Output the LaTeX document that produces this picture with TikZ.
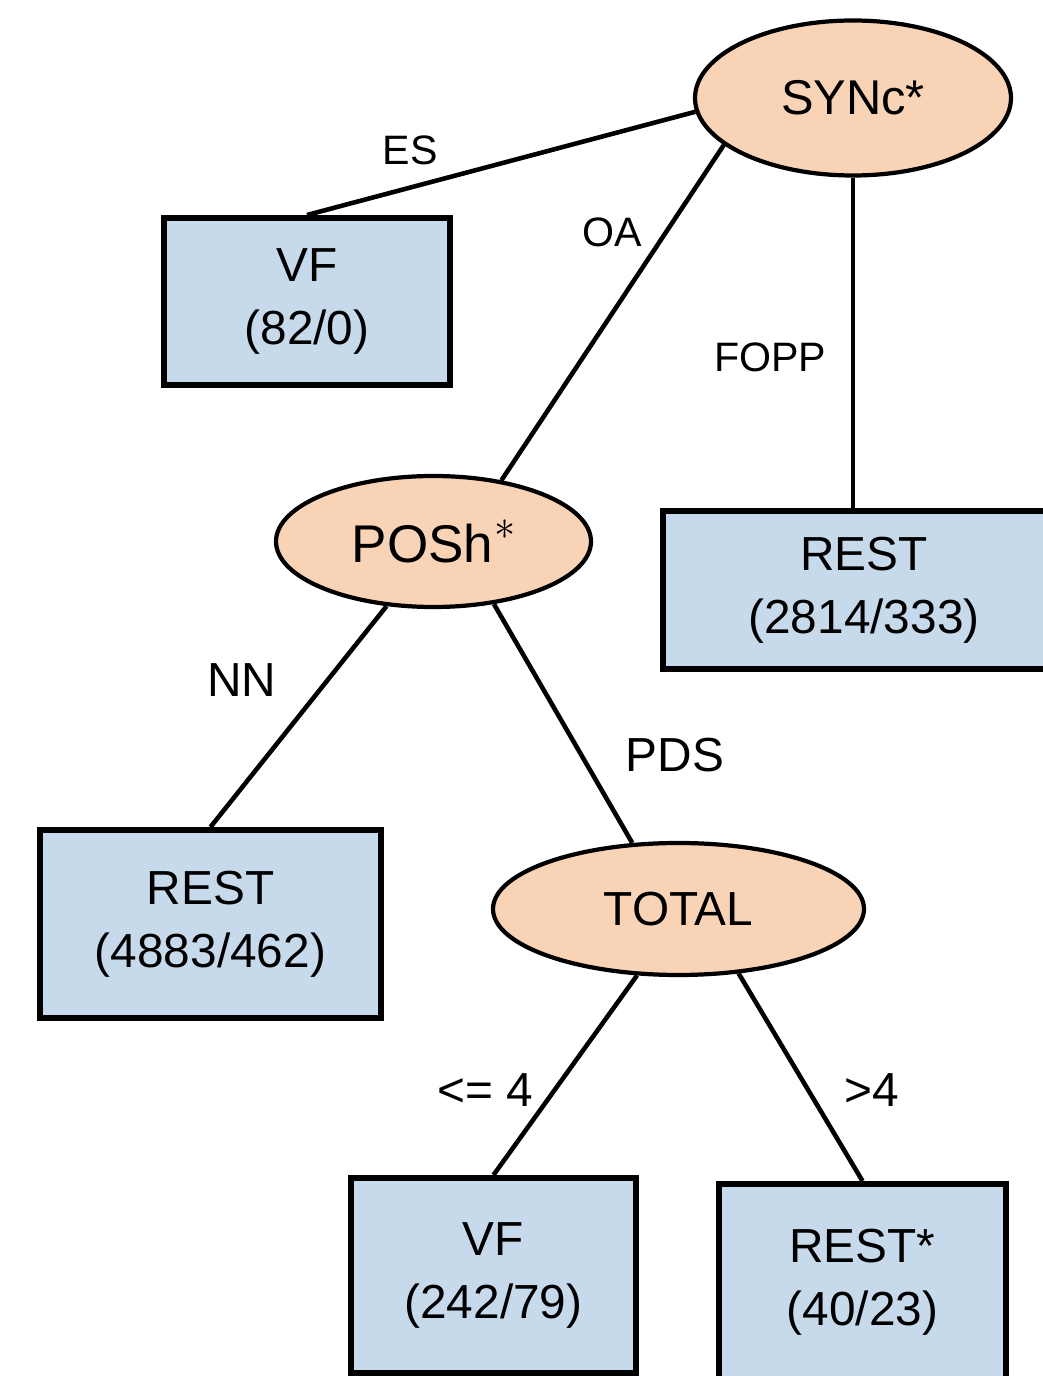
\documentclass[tikz,border=0pt]{standalone}
\usepackage{fontspec}
\setmainfont{Liberation Sans}
\usetikzlibrary{shapes.geometric}

\definecolor{peach}{HTML}{F9D3B6}
\definecolor{leafblue}{HTML}{C7DAEB}

\begin{document}
\begin{tikzpicture}[
  font=\fontsize{13.6}{18}\selectfont,
  split/.style={ellipse, draw=black, line width=1.2pt, fill=peach, inner sep=0pt},
  leaf/.style={rectangle, draw=black, line width=1.7pt, fill=leafblue,
               align=center, inner sep=0pt},
  lbl/.style={inner sep=0pt},
  small/.style={lbl, font=\fontsize{11.7}{14}\selectfont},
  edge/.style={line width=1.3pt, draw=black},
]
\useasboundingbox (0,0) rectangle (10.43,13.76);
\clip (0,0) rectangle (10.43,13.76);

% Split nodes
\node[split, minimum width=31.6mm, minimum height=15.5mm,
      font=\fontsize{13.9}{17}\selectfont] (sync) at (8.53,12.78) {SYNc*};
\node[split, minimum width=31.5mm, minimum height=13.1mm,
      font=\fontsize{15.1}{18}\selectfont] (posh) at (4.335,8.345)
  {POSh\kern0.3pt\raisebox{6.3pt}{\fontsize{12.5}{12}\selectfont$\ast$}};
\node[split, minimum width=37.1mm, minimum height=13.2mm] (total) at (6.785,4.67) {TOTAL};

% Leaves
\node[leaf, minimum width=28.6mm, minimum height=16.7mm] (vf1) at (3.07,10.745) {VF\\(82/0)};
\node[leaf, minimum width=40.2mm, minimum height=15.8mm] (rest1) at (8.64,7.86) {REST\\(2814/333)};
\node[leaf, minimum width=34.1mm, minimum height=18.8mm] (rest2) at (2.105,4.52) {REST\\(4883/462)};
\node[leaf, minimum width=28.5mm, minimum height=19.5mm] (vf2) at (4.935,1.005) {VF\\(242/79)};
\node[leaf, minimum width=28.7mm, minimum height=19.6mm] (rest3) at (8.625,0.94) {REST*\\(40/23)};

% Branches
\draw[edge] (sync.185) -- (vf1.north);
\draw[edge] (sync.200) -- (posh.42);
\draw[edge] (sync.south) -- (sync.south |- rest1.north);
\draw[edge] (posh.234) -- (rest2.north);
\draw[edge] (posh.314) -- (total.125);
\draw[edge] (total.238) -- (vf2.north);
\draw[edge] (total.313) -- (rest3.north);

% Branch labels
\node[small] (les) at (4.10,12.26) {ES};
\node[small] (loa) at (6.12,11.44) {OA};
\node[small] (lfopp) at (7.70,10.19) {FOPP};
\node[lbl] (lnn) at (2.42,6.96) {NN};
\node[lbl] (lpds) at (6.75,6.21) {PDS};
\node[lbl] (lle) at (4.85,2.86) {<= 4};
\node[lbl] (lgt) at (8.72,2.86) {>4};

\end{tikzpicture}
\end{document}
